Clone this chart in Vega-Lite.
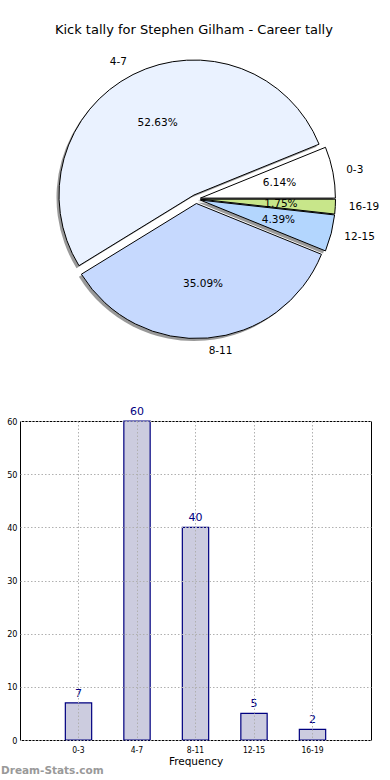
{
  "$schema": "https://vega.github.io/schema/vega-lite/v6.json",
  "padding": {"top": 24, "left": 0, "right": 0, "bottom": 0},
  "background": "white",
  "config": {"font": "DejaVu Sans", "view": {"stroke": null}},
  "title": {"text": "Kick tally for Stephen Gilham - Career tally", "fontSize": 13, "fontWeight": "normal", "font": "DejaVu Sans", "color": "black", "anchor": "middle", "offset": 4, "dx": 4},
  "datasets": {
    "kicks": [
      {"range": "0-3", "count": 7, "share": 0.0614, "idx": 1},
      {"range": "4-7", "count": 60, "share": 0.5263, "idx": 2},
      {"range": "8-11", "count": 40, "share": 0.3509, "idx": 3},
      {"range": "12-15", "count": 5, "share": 0.0439, "idx": 4},
      {"range": "16-19", "count": 2, "share": 0.0175, "idx": 5}
    ]
  },
  "spacing": 48,
  "vconcat": [
    {
      "width": 352,
      "height": 316,
      "view": {"stroke": null},
      "data": {"name": "kicks"},
      "transform": [{"stack": "count", "groupby": [], "sort": [{"field": "idx", "order": "ascending"}], "as": ["s0", "s1"]}],
      "layer": [
        {"transform": [{"filter": "datum.range === '0-3'"}], "mark": {"type": "arc", "radius": 135, "fill": "#333333", "opacity": 0.5, "xOffset": 1.9, "yOffset": 1.6},
         "encoding": {"theta": {"field": "s0", "type": "quantitative", "stack": null, "scale": {"domain": [0, 114], "range": [1.5708, -4.7124], "zero": false, "nice": false}}, "theta2": {"field": "s1"}}},
        {"transform": [{"filter": "datum.range === '4-7'"}], "mark": {"type": "arc", "radius": 135, "fill": "#333333", "opacity": 0.5, "xOffset": -4.5, "yOffset": -1.5},
         "encoding": {"theta": {"field": "s0", "type": "quantitative", "stack": null, "scale": {"domain": [0, 114], "range": [1.5708, -4.7124], "zero": false, "nice": false}}, "theta2": {"field": "s1"}}},
        {"transform": [{"filter": "datum.range === '8-11'"}], "mark": {"type": "arc", "radius": 135, "fill": "#333333", "opacity": 0.5, "xOffset": -2.1, "yOffset": 7.0},
         "encoding": {"theta": {"field": "s0", "type": "quantitative", "stack": null, "scale": {"domain": [0, 114], "range": [1.5708, -4.7124], "zero": false, "nice": false}}, "theta2": {"field": "s1"}}},
        {"transform": [{"filter": "datum.range === '12-15'"}], "mark": {"type": "arc", "radius": 135, "fill": "#333333", "opacity": 0.5, "xOffset": 1.9, "yOffset": 3.6},
         "encoding": {"theta": {"field": "s0", "type": "quantitative", "stack": null, "scale": {"domain": [0, 114], "range": [1.5708, -4.7124], "zero": false, "nice": false}}, "theta2": {"field": "s1"}}},
        {"transform": [{"filter": "datum.range === '16-19'"}], "mark": {"type": "arc", "radius": 135, "fill": "#333333", "opacity": 0.5, "xOffset": 2.0, "yOffset": 2.7},
         "encoding": {"theta": {"field": "s0", "type": "quantitative", "stack": null, "scale": {"domain": [0, 114], "range": [1.5708, -4.7124], "zero": false, "nice": false}}, "theta2": {"field": "s1"}}},

        {"transform": [{"filter": "datum.range === '0-3'"}], "mark": {"type": "arc", "radius": 135, "stroke": "black", "strokeWidth": 1, "xOffset": 4.4, "yOffset": -0.9},
         "encoding": {"theta": {"field": "s0", "type": "quantitative", "stack": null, "scale": {"domain": [0, 114], "range": [1.5708, -4.7124], "zero": false, "nice": false}}, "theta2": {"field": "s1"},
           "color": {"field": "range", "type": "nominal", "legend": null, "scale": {"domain": ["0-3", "4-7", "8-11", "12-15", "16-19"], "range": ["#ffffff", "#eaf2ff", "#c6d9fe", "#b3d6fe", "#c8e68a"]}}}},
        {"transform": [{"filter": "datum.range === '4-7'"}], "mark": {"type": "arc", "radius": 135, "stroke": "black", "strokeWidth": 1, "xOffset": -2.0, "yOffset": -4.0},
         "encoding": {"theta": {"field": "s0", "type": "quantitative", "stack": null, "scale": {"domain": [0, 114], "range": [1.5708, -4.7124], "zero": false, "nice": false}}, "theta2": {"field": "s1"},
           "color": {"field": "range", "type": "nominal", "legend": null, "scale": {"domain": ["0-3", "4-7", "8-11", "12-15", "16-19"], "range": ["#ffffff", "#eaf2ff", "#c6d9fe", "#b3d6fe", "#c8e68a"]}}}},
        {"transform": [{"filter": "datum.range === '8-11'"}], "mark": {"type": "arc", "radius": 135, "stroke": "black", "strokeWidth": 1, "xOffset": 0.4, "yOffset": 4.5},
         "encoding": {"theta": {"field": "s0", "type": "quantitative", "stack": null, "scale": {"domain": [0, 114], "range": [1.5708, -4.7124], "zero": false, "nice": false}}, "theta2": {"field": "s1"},
           "color": {"field": "range", "type": "nominal", "legend": null, "scale": {"domain": ["0-3", "4-7", "8-11", "12-15", "16-19"], "range": ["#ffffff", "#eaf2ff", "#c6d9fe", "#b3d6fe", "#c8e68a"]}}}},
        {"transform": [{"filter": "datum.range === '12-15'"}], "mark": {"type": "arc", "radius": 135, "stroke": "black", "strokeWidth": 1, "xOffset": 4.4, "yOffset": 1.1},
         "encoding": {"theta": {"field": "s0", "type": "quantitative", "stack": null, "scale": {"domain": [0, 114], "range": [1.5708, -4.7124], "zero": false, "nice": false}}, "theta2": {"field": "s1"},
           "color": {"field": "range", "type": "nominal", "legend": null, "scale": {"domain": ["0-3", "4-7", "8-11", "12-15", "16-19"], "range": ["#ffffff", "#eaf2ff", "#c6d9fe", "#b3d6fe", "#c8e68a"]}}}},
        {"transform": [{"filter": "datum.range === '16-19'"}], "mark": {"type": "arc", "radius": 135, "stroke": "black", "strokeWidth": 1, "xOffset": 4.5, "yOffset": 0.2},
         "encoding": {"theta": {"field": "s0", "type": "quantitative", "stack": null, "scale": {"domain": [0, 114], "range": [1.5708, -4.7124], "zero": false, "nice": false}}, "theta2": {"field": "s1"},
           "color": {"field": "range", "type": "nominal", "legend": null, "scale": {"domain": ["0-3", "4-7", "8-11", "12-15", "16-19"], "range": ["#ffffff", "#eaf2ff", "#c6d9fe", "#b3d6fe", "#c8e68a"]}}}},

        {"mark": {"type": "text", "radius": 153, "align": "left", "baseline": "middle", "fontSize": 10.5, "font": "DejaVu Sans", "color": "black"},
         "encoding": {"theta": {"field": "count", "type": "quantitative", "stack": true, "scale": {"domain": [0, 114], "range": [1.5708, -4.7124], "zero": false, "nice": false}},
           "order": {"field": "idx", "type": "quantitative"}, "detail": {"field": "range"},
           "text": {"field": "range"},
           "opacity": {"condition": {"test": "datum.range === '4-7'", "value": 0}, "value": 1}}},
        {"mark": {"type": "text", "radius": 153, "align": "right", "baseline": "middle", "fontSize": 10.5, "font": "DejaVu Sans", "color": "black"},
         "encoding": {"theta": {"field": "count", "type": "quantitative", "stack": true, "scale": {"domain": [0, 114], "range": [1.5708, -4.7124], "zero": false, "nice": false}},
           "order": {"field": "idx", "type": "quantitative"}, "detail": {"field": "range"},
           "text": {"field": "range"},
           "opacity": {"condition": {"test": "datum.range === '4-7'", "value": 1}, "value": 0}}},
        {"mark": {"type": "text", "radius": 85, "align": "center", "baseline": "middle", "fontSize": 10.5, "font": "DejaVu Sans", "color": "black"},
         "encoding": {"theta": {"field": "count", "type": "quantitative", "stack": true, "scale": {"domain": [0, 114], "range": [1.5708, -4.7124], "zero": false, "nice": false}},
           "order": {"field": "idx", "type": "quantitative"}, "detail": {"field": "range"},
           "text": {"field": "share", "type": "quantitative", "format": ".2%"}}}
      ]
    },
    {
      "width": 351,
      "height": 319,
      "view": {"stroke": "black", "strokeWidth": 1},
      "data": {"name": "kicks"},
      "title": {"text": "Dream-Stats.com", "orient": "bottom", "anchor": "start", "frame": "bounds", "fontSize": 10.5, "fontWeight": "bold", "color": "#999999", "font": "DejaVu Sans", "offset": -1},
      "encoding": {
        "x": {"field": "range", "type": "nominal", "sort": ["0-3", "4-7", "8-11", "12-15", "16-19"],
          "scale": {"paddingInner": 0.55, "paddingOuter": 0.775},
          "axis": {"title": "Frequency", "titleFontSize": 10.5, "titleFontWeight": "normal", "titleColor": "black", "titlePadding": 3,
            "labelAngle": 0, "labelFontSize": 8.5, "labelFont": "DejaVu Sans Condensed", "labelColor": "black", "labelPadding": 5,
            "ticks": false, "domain": false, "bandPosition": 0.5, "grid": true, "gridColor": "#b0b0b0", "gridDash": [1.5, 2], "zindex": 1}},
        "y": {"field": "count", "type": "quantitative", "scale": {"domain": [0, 60], "nice": false},
          "axis": {"title": null, "values": [0, 10, 20, 30, 40, 50, 60], "labelFontSize": 9, "labelFont": "DejaVu Sans Condensed", "labelColor": "black", "labelPadding": 3,
            "ticks": false, "domain": false, "grid": true, "gridColor": "#b0b0b0", "gridDash": [1.5, 2], "zindex": 1, "minExtent": 19, "maxExtent": 19}}
      },
      "layer": [
        {"mark": {"type": "bar", "fill": "#ccccdf", "stroke": "#000080", "strokeWidth": 1.2}},
        {"mark": {"type": "text", "dy": -6, "color": "#000080", "fontSize": 11, "font": "DejaVu Sans", "baseline": "alphabetic"},
         "encoding": {"text": {"field": "count", "type": "quantitative"}}}
      ]
    }
  ]
}
